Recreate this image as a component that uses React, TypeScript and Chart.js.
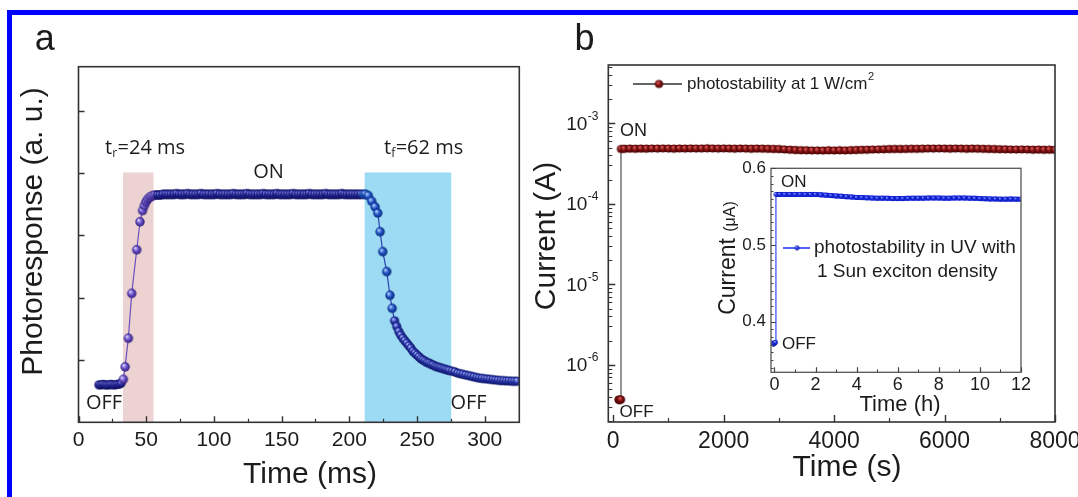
import React, { useEffect, useRef } from 'react';
import { Chart, registerables } from 'chart.js';
Chart.register(...registerables);

// ---------------- Panel a : photoresponse vs time (ms) ----------------
const aOffTime = [15, 16.5, 18, 19.5, 21, 22.5, 24, 25.5, 27, 28.5, 30, 31.5];
const aOffSignal = [0.6, 0.6, 0.61, 0.6, 0.6, 0.6, 0.61, 0.6, 0.6, 0.61, 0.61, 0.63];
const aRiseTime = [33.1, 34.4, 36.8, 39.3, 43, 45.4, 47.3, 48.6, 49.8, 51, 52.4, 53.8, 55.3, 56.8];
const aRiseSignal = [0.69, 0.89, 1.35, 2.07, 2.77, 3.22, 3.4, 3.48, 3.54, 3.58, 3.61, 3.63, 3.64, 3.65];
const aPlateauTime = [
  58.5, 60.5, 62.5, 64.5, 66.5, 68.5, 70.5, 72.5, 74.5, 76.5, 78.5, 80.5, 82.5, 84.5, 86.5, 88.5,
  90.5, 92.5, 94.5, 96.5, 98.5, 100.5, 102.5, 104.5, 106.5, 108.5, 110.5, 112.5, 114.5, 116.5,
  118.5, 120.5, 122.5, 124.5, 126.5, 128.5, 130.5, 132.5, 134.5, 136.5, 138.5, 140.5, 142.5,
  144.5, 146.5, 148.5, 150.5, 152.5, 154.5, 156.5, 158.5, 160.5, 162.5, 164.5, 166.5, 168.5,
  170.5, 172.5, 174.5, 176.5, 178.5, 180.5, 182.5, 184.5, 186.5, 188.5, 190.5, 192.5, 194.5,
  196.5, 198.5, 200.5, 202.5, 204.5, 206.5, 208.5,
];
const aPlateauSignal = [
  3.65, 3.65, 3.66, 3.66, 3.66, 3.66, 3.66, 3.67, 3.66, 3.66,
  3.66, 3.67, 3.66, 3.66, 3.66, 3.66, 3.67, 3.66, 3.66, 3.66,
  3.66, 3.66, 3.67, 3.66, 3.66, 3.66, 3.66, 3.66, 3.67, 3.66,
  3.66, 3.66, 3.66, 3.67, 3.66, 3.66, 3.66, 3.66, 3.66, 3.67,
  3.66, 3.66, 3.66, 3.66, 3.67, 3.66, 3.66, 3.66, 3.66, 3.66,
  3.67, 3.66, 3.66, 3.66, 3.66, 3.66, 3.67, 3.66, 3.66, 3.66,
  3.66, 3.66, 3.67, 3.66, 3.66, 3.66, 3.66, 3.66, 3.67, 3.66,
  3.66, 3.66, 3.66, 3.66, 3.66, 3.66,
];
const aFallTime = [210.5, 212, 214, 216.5, 219, 221, 222.7, 224.7, 227.6, 230, 231.6];
const aFallSignal = [3.66, 3.66, 3.64, 3.55, 3.46, 3.36, 3.06, 2.74, 2.42, 2.04, 1.83];
const aTailTime = [
  233.4, 235, 236.5, 238, 239.5, 241, 242.5, 244, 245.5, 247, 248.5, 250, 251.5, 253, 254.5, 256,
  257.5, 259, 260.5, 262, 263.5, 265, 266.5, 268, 269.5, 271, 272.5, 274, 276, 278, 280, 282, 284,
  286, 288, 290, 292, 294, 296, 298, 300, 302, 304, 306, 308, 310, 312, 314, 316, 318, 320, 322, 324,
];
const aTailSignal = [
  1.63, 1.54, 1.46, 1.4, 1.35, 1.31, 1.27, 1.23, 1.19, 1.14, 1.11, 1.08, 1.05, 1.02, 1.0, 0.98,
  0.96, 0.95, 0.93, 0.92, 0.9, 0.89, 0.88, 0.87, 0.86, 0.85, 0.84, 0.83, 0.82, 0.81, 0.79, 0.78, 0.77,
  0.76, 0.75, 0.74, 0.73, 0.72, 0.71, 0.705, 0.7, 0.695, 0.69, 0.685, 0.68, 0.675, 0.67, 0.67, 0.665,
  0.665, 0.66, 0.66, 0.66,
];
const aRiseWindow = [32.8, 55.5];
const aFallWindow = [211.1, 275.4];
const aWindowTop = 4.01;
const aXTicks = [0, 50, 100, 150, 200, 250, 300];
const aXMinor = [25, 75, 125, 175, 225, 275];
const aYTicks = [1, 2, 3, 4, 5];

// ---------------- Panel b : current vs time (s), log scale ----------------
const bTime = [
  95, 110, 125, 138,
  140, 200, 300, 400, 500, 600, 700, 800, 900, 1000, 1100, 1200, 1300, 1400, 1500,
  1600, 1700, 1800, 1900, 2000, 2100, 2200, 2300, 2400, 2500, 2600, 2700, 2800, 2900, 3000,
  3100, 3200, 3300, 3400, 3500, 3600, 3700, 3800, 3900, 4000, 4100, 4200, 4300, 4400, 4500,
  4600, 4700, 4800, 4900, 5000, 5100, 5200, 5300, 5400, 5500, 5600, 5700, 5800, 5900, 6000,
  6100, 6200, 6300, 6400, 6500, 6600, 6700, 6800, 6900, 7000, 7100, 7200, 7300, 7400, 7500,
  7600, 7700, 7800, 7900, 8000,
];
const bCurrent = [
  3.7e-7, 3.65e-7, 3.7e-7, 3.7e-7,
  4.8e-4, 4.82e-4, 4.85e-4, 4.83e-4, 4.86e-4, 4.84e-4, 4.87e-4, 4.85e-4, 4.88e-4, 4.86e-4, 4.84e-4, 4.87e-4, 4.85e-4, 4.88e-4, 4.86e-4,
  4.86e-4, 4.89e-4, 4.87e-4, 4.85e-4, 4.88e-4, 4.86e-4, 4.84e-4, 4.87e-4, 4.85e-4, 4.83e-4, 4.86e-4, 4.84e-4, 4.82e-4, 4.8e-4, 4.78e-4,
  4.74e-4, 4.7e-4, 4.66e-4, 4.63e-4, 4.62e-4, 4.6e-4, 4.61e-4, 4.59e-4, 4.62e-4, 4.6e-4, 4.63e-4, 4.61e-4, 4.64e-4, 4.66e-4, 4.68e-4,
  4.7e-4, 4.72e-4, 4.74e-4, 4.76e-4, 4.78e-4, 4.8e-4, 4.79e-4, 4.81e-4, 4.83e-4, 4.82e-4, 4.84e-4, 4.86e-4, 4.85e-4, 4.87e-4, 4.86e-4,
  4.84e-4, 4.86e-4, 4.85e-4, 4.83e-4, 4.86e-4, 4.84e-4, 4.82e-4, 4.8e-4, 4.78e-4, 4.76e-4, 4.75e-4, 4.73e-4, 4.72e-4, 4.74e-4, 4.72e-4,
  4.7e-4, 4.72e-4, 4.69e-4, 4.71e-4, 4.68e-4,
];
const bXTicks = [0, 2000, 4000, 6000, 8000];
const bXMinor = [1000, 3000, 5000, 7000];
const bYTicks = [1e-6, 1e-5, 1e-4, 1e-3];
const bYTickExponents = ['-6', '-5', '-4', '-3'];
const bYMinor = [
  2e-7, 3e-7, 4e-7, 5e-7, 6e-7, 7e-7, 8e-7, 9e-7,
  2e-6, 3e-6, 4e-6, 5e-6, 6e-6, 7e-6, 8e-6, 9e-6,
  2e-5, 3e-5, 4e-5, 5e-5, 6e-5, 7e-5, 8e-5, 9e-5,
  2e-4, 3e-4, 4e-4, 5e-4, 6e-4, 7e-4, 8e-4, 9e-4,
  2e-3, 3e-3, 4e-3, 5e-3,
];

// ---------------- Inset : current (uA) vs time (h) ----------------
const cTime = [
  -0.1, -0.05, 0, 0.05,
  0.07, 0.25, 0.5, 0.75, 1, 1.25, 1.5, 1.75, 2, 2.25, 2.5,
  2.75, 3, 3.25, 3.5, 3.75, 4, 4.25, 4.5, 4.75, 5,
  5.25, 5.5, 5.75, 6, 6.25, 6.5, 6.75, 7, 7.25, 7.5,
  7.75, 8, 8.25, 8.5, 8.75, 9, 9.25, 9.5, 9.75, 10,
  10.25, 10.5, 10.75, 11, 11.25, 11.5, 11.75, 12,
];
const cCurrent = [
  0.372, 0.371, 0.372, 0.373,
  0.566, 0.566, 0.566, 0.566, 0.566, 0.566, 0.566, 0.566, 0.566, 0.5655, 0.565,
  0.5645, 0.564, 0.5635, 0.563, 0.5625, 0.562, 0.5618, 0.5615, 0.5612, 0.561,
  0.561, 0.5608, 0.5605, 0.5605, 0.5605, 0.5608, 0.561, 0.561, 0.561, 0.5612,
  0.5612, 0.5612, 0.561, 0.561, 0.5612, 0.5612, 0.5612, 0.561, 0.5608, 0.5605,
  0.5603, 0.56, 0.56, 0.5598, 0.5598, 0.56, 0.5598, 0.5595,
];
const cXTicks = [0, 2, 4, 6, 8, 10, 12];
const cXMinor = [1, 3, 5, 7, 9, 11];
const cYTicks = [0.4, 0.5, 0.6];
const cYMinor = [
  0.34, 0.35, 0.36, 0.37, 0.38, 0.39, 0.41, 0.42, 0.43, 0.44, 0.45, 0.46, 0.47, 0.48, 0.49,
  0.51, 0.52, 0.53, 0.54, 0.55, 0.56, 0.57, 0.58, 0.59,
];

// ---------------- drawing helpers ----------------
const INK = '#1c1c1c';

function ball(r: number, base: string, hi: string, edge: string) {
  const c = document.createElement('canvas');
  const s = Math.ceil(r * 2 + 2);
  c.width = s;
  c.height = s;
  const g = c.getContext('2d')!;
  const cx = s / 2;
  const cy = s / 2;
  const grad = g.createRadialGradient(cx - r * 0.35, cy - r * 0.4, r * 0.08, cx, cy, r);
  grad.addColorStop(0, hi);
  grad.addColorStop(0.5, base);
  grad.addColorStop(1, edge);
  g.fillStyle = grad;
  g.beginPath();
  g.arc(cx, cy, r, 0, Math.PI * 2);
  g.fill();
  return c;
}

function frame(ctx: any, ca: any, color: string, lw: number) {
  ctx.save();
  ctx.strokeStyle = color;
  ctx.lineWidth = lw;
  ctx.strokeRect(ca.left, ca.top, ca.right - ca.left, ca.bottom - ca.top);
  ctx.restore();
}

function xTicks(ctx: any, scale: any, ca: any, vals: number[], len: number, color: string, lw: number) {
  ctx.save();
  ctx.strokeStyle = color;
  ctx.lineWidth = lw;
  ctx.beginPath();
  vals.forEach((v) => {
    const px = Math.round(scale.getPixelForValue(v)) + 0.5;
    ctx.moveTo(px, ca.bottom);
    ctx.lineTo(px, ca.bottom - len);
  });
  ctx.stroke();
  ctx.restore();
}

function yTicks(ctx: any, scale: any, ca: any, vals: number[], len: number, color: string, lw: number) {
  ctx.save();
  ctx.strokeStyle = color;
  ctx.lineWidth = lw;
  ctx.beginPath();
  vals.forEach((v) => {
    const py = Math.round(scale.getPixelForValue(v)) + 0.5;
    ctx.moveTo(ca.left, py);
    ctx.lineTo(ca.left + len, py);
  });
  ctx.stroke();
  ctx.restore();
}

function text(ctx: any, s: string, x: number, y: number, font: string, align = 'center', color = INK) {
  ctx.save();
  ctx.font = font;
  ctx.textAlign = align;
  ctx.textBaseline = 'middle';
  ctx.fillStyle = color;
  ctx.fillText(s, x, y);
  ctx.restore();
}

function vtext(ctx: any, s: string, cx: number, cy: number, font: string, color = INK) {
  ctx.save();
  ctx.translate(cx, cy);
  ctx.rotate(-Math.PI / 2);
  text(ctx, s, 0, 0, font, 'center', color);
  ctx.restore();
}

function subText(ctx: any, main: string, sub: string, rest: string, x: number, y: number, size: number, family: string) {
  ctx.save();
  ctx.fillStyle = INK;
  ctx.textBaseline = 'middle';
  ctx.textAlign = 'left';
  ctx.font = `${size}px ${family}`;
  ctx.fillText(main, x, y);
  const w1 = ctx.measureText(main).width;
  ctx.font = `${Math.round(size * 0.62)}px ${family}`;
  ctx.fillText(sub, x + w1, y + size * 0.3);
  const w2 = ctx.measureText(sub).width;
  ctx.font = `${size}px ${family}`;
  ctx.fillText(rest, x + w1 + w2 + 0.5, y);
  ctx.restore();
}

const baseOptions = (padding: any, xs: any, ys: any) => ({
  responsive: false,
  animation: false,
  events: [],
  layout: { padding },
  plugins: { legend: { display: false }, tooltip: { enabled: false }, title: { display: false } },
  scales: { x: { ...xs, display: false }, y: { ...ys, display: false } },
});

export default function App() {
  const refA = useRef<HTMLCanvasElement>(null);
  const refB = useRef<HTMLCanvasElement>(null);
  const refC = useRef<HTMLCanvasElement>(null);

  useEffect(() => {
    // ----- Panel a -----
    const segs = [
      { t: aOffTime, v: aOffSignal, img: ball(4.5, '#2a2aa6', '#b4b8ff', '#0e0e5a') },
      { t: aRiseTime, v: aRiseSignal, img: ball(4.7, '#6b52c9', '#ddd4ff', '#2e1d78') },
      { t: aPlateauTime, v: aPlateauSignal, img: ball(4.8, '#26269c', '#a8acff', '#0c0c58') },
      { t: aFallTime, v: aFallSignal, img: ball(4.7, '#2156c8', '#b8d0ff', '#0b2a78') },
      { t: aTailTime, v: aTailSignal, img: ball(4.6, '#2838b0', '#b0b8ff', '#0d1464') },
    ];
    const aPoints: any[] = [];
    const aStyles: any[] = [];
    segs.forEach((s) => s.t.forEach((t, i) => { aPoints.push({ x: t, y: s.v[i] }); aStyles.push(s.img); }));

    const panelA = {
      id: 'panelA',
      afterDraw(chart: any) {
        const { ctx, chartArea: ca } = chart;
        const xs = chart.scales.x;
        const ys = chart.scales.y;
        frame(ctx, ca, '#333', 1.6);
        xTicks(ctx, xs, ca, aXTicks, 6, '#333', 1.4);
        xTicks(ctx, xs, ca, aXMinor, 3.5, '#333', 1.2);
        yTicks(ctx, ys, ca, aYTicks, 6, '#333', 1.4);
        aXTicks.forEach((v) => text(ctx, String(v), xs.getPixelForValue(v), 440, '21px Arial'));
        text(ctx, 'Time (ms)', 310, 475, '30px Arial');
        vtext(ctx, 'Photoresponse (a. u.)', 33.5, 231.5, '30px Arial');
        text(ctx, 'a', 44.7, 40, '36px Arial');
        const fam = '"Open Sans", sans-serif';
        subText(ctx, 't', 'r', '=24 ms', 105, 148, 20, fam);
        subText(ctx, 't', 'f', '=62 ms', 384, 148, 20, fam);
        text(ctx, 'ON', 268.5, 172.3, `20px ${fam}`);
        text(ctx, 'OFF', 104, 403, `20px ${fam}`);
        text(ctx, 'OFF', 468.5, 403, `20px ${fam}`);
      },
    };

    const chartA = new Chart(refA.current!, {
      type: 'line',
      data: {
        datasets: [
          {
            data: aPoints,
            borderColor: '#3340b0',
            borderWidth: 1.2,
            pointStyle: aStyles,
            pointRadius: 4.5,
            fill: false,
            order: 1,
            segment: { borderColor: (c: any) => (c.p0.parsed.x < 58 ? '#6a50c0' : '#2d40b0') },
          },
          {
            data: [{ x: aRiseWindow[0], y: aWindowTop }, { x: aRiseWindow[1], y: aWindowTop }],
            backgroundColor: '#ecd2d1',
            borderWidth: 0,
            pointRadius: 0,
            fill: 'origin',
            order: 2,
          },
          {
            data: [{ x: aFallWindow[0], y: aWindowTop }, { x: aFallWindow[1], y: aWindowTop }],
            backgroundColor: '#9ddaf4',
            borderWidth: 0,
            pointRadius: 0,
            fill: 'origin',
            order: 2,
          },
        ],
      },
      options: baseOptions(
        { left: 78.5, top: 66.7, right: 20.7, bottom: 74.7 },
        { type: 'linear', min: 0, max: 325.5 },
        { type: 'linear', min: 0, max: 5.71 },
      ) as any,
      plugins: [panelA],
    });

    // ----- Panel b -----
    const OX = 520;
    const redBall = ball(4.1, '#8b1212', '#d86060', '#420404');
    const bPoints = bTime.map((t, i) => ({ x: t, y: bCurrent[i] }));
    const bJump = (c: any) => Math.abs(Math.log10(c.p1.parsed.y / c.p0.parsed.y)) > 1;
    const panelB = {
      id: 'panelB',
      afterDraw(chart: any) {
        const { ctx, chartArea: ca } = chart;
        const xs = chart.scales.x;
        const ys = chart.scales.y;
        frame(ctx, ca, '#333', 1.6);
        xTicks(ctx, xs, ca, bXTicks, 7, '#333', 1.4);
        xTicks(ctx, xs, ca, bXMinor, 4, '#333', 1.2);
        yTicks(ctx, ys, ca, bYTicks, 7, '#333', 1.4);
        yTicks(ctx, ys, ca, bYMinor, 4, '#333', 1.1);
        bXTicks.forEach((v) => text(ctx, String(v), xs.getPixelForValue(v), 442, '23px Arial'));
        bYTicks.forEach((v, i) => {
          const py = ys.getPixelForValue(v);
          ctx.save();
          ctx.font = '12px Arial';
          const supW = ctx.measureText(bYTickExponents[i]).width;
          ctx.restore();
          const right = 598 - OX - supW;
          text(ctx, '10', right, py + 1, '19px Arial', 'right');
          text(ctx, bYTickExponents[i], right + 0.5, py - 7, '12px Arial', 'left');
        });
        text(ctx, 'Time (s)', 847 - OX, 468, '30px Arial');
        vtext(ctx, 'Current (A)', 547 - OX, 236, '30px Arial');
        text(ctx, 'b', 584.6 - OX, 40, '36px Arial');
        // legend
        ctx.save();
        ctx.strokeStyle = '#333';
        ctx.lineWidth = 1.5;
        ctx.beginPath();
        ctx.moveTo(633 - OX, 84);
        ctx.lineTo(682 - OX, 84);
        ctx.stroke();
        ctx.drawImage(redBall, 659 - OX - redBall.width / 2, 84 - redBall.height / 2);
        ctx.restore();
        ctx.save();
        ctx.font = '17px Arial';
        const lw = ctx.measureText('photostability at 1 W/cm').width;
        ctx.restore();
        text(ctx, 'photostability at 1 W/cm', 687 - OX, 84, '17px Arial', 'left');
        text(ctx, '2', 687 - OX + lw + 0.5, 77, '11px Arial', 'left');
        text(ctx, 'ON', 620 - OX, 131, '18px Arial', 'left');
        text(ctx, 'OFF', 619.6 - OX, 412, '17px Arial', 'left');
      },
    };
    const chartB = new Chart(refB.current!, {
      type: 'line',
      data: {
        datasets: [
          {
            data: bPoints,
            borderColor: '#2a2a2a',
            borderWidth: 1,
            pointStyle: redBall,
            pointRadius: 4.1,
            fill: false,
            segment: {
              borderColor: (c: any) => (bJump(c) ? '#2a2a2a' : '#7a1010'),
              borderWidth: (c: any) => (bJump(c) ? 1 : 7),
            },
          },
        ],
      },
      options: baseOptions(
        { left: 88.3, top: 65, right: 23, bottom: 75 },
        { type: 'linear', min: -90, max: 8000 },
        { type: 'logarithmic', min: 1.95e-7, max: 5.3e-3 },
      ) as any,
      plugins: [panelB],
    });

    // ----- Inset -----
    const CX = 690;
    const CY = 150;
    const blueBall = ball(2.4, '#1a2ef0', '#9aa6ff', '#0a1498');
    const cPoints = cTime.map((t, i) => ({ x: t, y: cCurrent[i] }));
    const cJump = (c: any) => Math.abs(c.p1.parsed.y - c.p0.parsed.y) > 0.05;
    const inset = {
      id: 'inset',
      beforeDatasetsDraw(chart: any) {
        const { ctx, chartArea: ca } = chart;
        ctx.save();
        ctx.fillStyle = '#ffffff';
        ctx.fillRect(ca.left, ca.top, ca.right - ca.left, ca.bottom - ca.top);
        ctx.restore();
      },
      afterDraw(chart: any) {
        const { ctx, chartArea: ca } = chart;
        const xs = chart.scales.x;
        const ys = chart.scales.y;
        frame(ctx, ca, '#555', 1.3);
        xTicks(ctx, xs, ca, cXTicks, 5, '#444', 1.2);
        xTicks(ctx, xs, ca, cXMinor, 3, '#444', 1);
        yTicks(ctx, ys, ca, cYTicks, 5, '#444', 1.2);
        yTicks(ctx, ys, ca, cYMinor, 2.5, '#444', 1);
        cXTicks.forEach((v) => text(ctx, String(v), xs.getPixelForValue(v), 385 - CY, '18px Arial'));
        cYTicks.forEach((v) => text(ctx, v.toFixed(1), 766 - CX, ys.getPixelForValue(v), '17px Arial', 'right'));
        text(ctx, 'Time (h)', 900 - CX, 405 - CY, '22px Arial');
        // rotated y title with smaller unit
        ctx.save();
        ctx.translate(727 - CX, 258 - CY);
        ctx.rotate(-Math.PI / 2);
        ctx.fillStyle = INK;
        ctx.textBaseline = 'alphabetic';
        ctx.textAlign = 'left';
        ctx.font = '23px Arial';
        const w1 = ctx.measureText('Current ').width;
        ctx.font = '16px Arial';
        const w2 = ctx.measureText('(μA)').width;
        const start = -(w1 + w2) / 2;
        ctx.font = '23px Arial';
        ctx.fillText('Current ', start, 8);
        ctx.font = '16px Arial';
        ctx.fillText('(μA)', start + w1, 8);
        ctx.restore();
        // legend
        ctx.save();
        ctx.strokeStyle = '#2a3cf0';
        ctx.lineWidth = 1.6;
        ctx.beginPath();
        ctx.moveTo(783 - CX, 248 - CY);
        ctx.lineTo(810 - CX, 248 - CY);
        ctx.stroke();
        ctx.drawImage(blueBall, 797 - CX - blueBall.width / 2, 248 - CY - blueBall.height / 2);
        ctx.restore();
        text(ctx, 'photostability in UV with', 814 - CX, 248 - CY, '19px Arial', 'left');
        text(ctx, '1 Sun exciton density', 817 - CX, 272 - CY, '19px Arial', 'left');
        text(ctx, 'ON', 781 - CX, 182 - CY, '17px Arial', 'left');
        text(ctx, 'OFF', 782 - CX, 344 - CY, '17px Arial', 'left');
      },
    };
    const chartC = new Chart(refC.current!, {
      type: 'line',
      data: {
        datasets: [
          {
            data: cPoints,
            borderColor: '#2238f0',
            borderWidth: 1.5,
            pointStyle: blueBall,
            pointRadius: 2.4,
            fill: false,
            segment: {
              borderColor: (c: any) => (cJump(c) ? '#3048f0' : '#1a2cf0'),
              borderWidth: (c: any) => (cJump(c) ? 1.2 : 5),
            },
          },
        ],
      },
      options: baseOptions(
        { left: 81, top: 18.3, right: 9, bottom: 47.7 },
        { type: 'linear', min: -0.17, max: 12 },
        { type: 'linear', min: 0.334, max: 0.6 },
      ) as any,
      plugins: [inset],
    });

    return () => {
      chartA.destroy();
      chartB.destroy();
      chartC.destroy();
    };
  }, []);

  return (
    <div style={{ position: 'fixed', left: 0, top: 0, width: 1078, height: 497, background: '#fff', overflow: 'hidden' }}>
      <canvas ref={refA} width={540} height={497} style={{ position: 'absolute', left: 0, top: 0 }} />
      <canvas ref={refB} width={558} height={497} style={{ position: 'absolute', left: 520, top: 0 }} />
      <canvas ref={refC} width={340} height={270} style={{ position: 'absolute', left: 690, top: 150 }} />
      <div style={{ position: 'absolute', left: 7, top: 10, width: 1071, height: 5, background: '#0000ff' }} />
      <div style={{ position: 'absolute', left: 7, top: 10, width: 5, height: 487, background: '#0000ff' }} />
    </div>
  );
}
